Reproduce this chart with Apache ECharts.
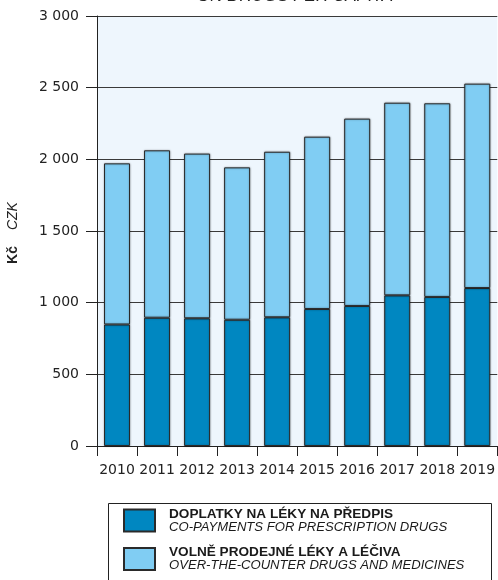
<!DOCTYPE html>
<html>
<head>
<meta charset="utf-8">
<script src="https://cdn.jsdelivr.net/npm/echarts@6/dist/echarts.min.js"></script>
<style>
html,body{margin:0;padding:0;background:#fff;}
#chart{width:498px;height:580px;}
</style>
</head>
<body>
<div id="chart"></div>
<script>
const years = ['2010','2011','2012','2013','2014','2015','2016','2017','2018','2019'];
const coPayments = [848, 895, 891, 881, 898, 956, 977, 1051, 1040, 1102];
const overTheCounter = [1124, 1168, 1149, 1063, 1155, 1202, 1307, 1344, 1351, 1426];
const seriesNamesCz = ['DOPLATKY NA LÉKY NA PŘEDPIS', 'VOLNĚ PRODEJNÉ LÉKY A LÉČIVA'];
const seriesNamesEn = ['CO-PAYMENTS FOR PRESCRIPTION DRUGS', 'OVER-THE-COUNTER DRUGS AND MEDICINES'];
const yTicks = [0, 500, 1000, 1500, 2000, 2500, 3000];

const chart = echarts.init(document.getElementById('chart'), null, {renderer:'canvas'});
const fontTick = 'DejaVu Sans';
const fontText = 'Liberation Sans';

function fmtThousands(v){
  const s = String(v);
  return s.length > 3 ? s.slice(0, s.length-3) + ' ' + s.slice(-3) : s;
}

const option = {
  backgroundColor: '#ffffff',
  animation: false,
  grid: {
    left: 97, top: 16, width: 402, height: 430,
    show: true, backgroundColor: '#EEF6FD', borderWidth: 0
  },
  xAxis: {
    type: 'category',
    data: years,
    axisLine: {show: true, lineStyle: {color: '#222', width: 1}},
    axisTick: {show: true, length: 10, lineStyle: {color: '#222'}},
    axisLabel: {interval: 0, margin: 17, color: '#222', fontFamily: fontTick, fontSize: 14}
  },
  yAxis: {
    type: 'value',
    min: yTicks[0], max: yTicks[yTicks.length-1], interval: 500,
    axisLine: {show: true, lineStyle: {color: '#222', width: 1}},
    axisTick: {show: true, length: 11, lineStyle: {color: '#222'}},
    axisLabel: {margin: 18, color: '#222', fontFamily: fontTick, fontSize: 14, formatter: fmtThousands},
    splitLine: {show: true, lineStyle: {color: '#3a3a3a', width: 1}}
  },
  legend: {
    orient: 'vertical',
    left: 123, top: 507,
    padding: 0,
    itemWidth: 31, itemHeight: 22, itemGap: 12,
    icon: 'rect',
    data: seriesNamesCz,
    formatter: function(name){
      const i = seriesNamesCz.indexOf(name);
      return '{b|' + name + '}\n{i|' + seriesNamesEn[i] + '}';
    },
    textStyle: {
      padding: [0, 0, 0, 9],
      rich: {
        b: {fontFamily: fontText, fontWeight: 'bold', fontSize: 13.6, lineHeight: 13, color: '#1a1a1a'},
        i: {fontFamily: fontText, fontStyle: 'italic', fontSize: 13.1, lineHeight: 13, color: '#1a1a1a'}
      }
    }
  },
  graphic: [
    {
      type: 'text',
      style: {
        text: 'ON DRUGS PER CAPITA', x: 295, y: 5,
        align: 'center', verticalAlign: 'bottom',
        font: 'italic 17px "Liberation Sans"', fill: '#222'
      }
    },
    {
      type: 'text',
      x: 13, y: 233, rotation: Math.PI/2,
      style: {
        text: '{b|Kč}{g|}{i|CZK}',
        align: 'center', verticalAlign: 'middle',
        rich: {
          b: {fontFamily: fontText, fontWeight: 'bold', fontSize: 14, fill: '#222', color: '#222'},
          g: {width: 16},
          i: {fontFamily: fontText, fontStyle: 'italic', fontSize: 14, fill: '#222', color: '#222'}
        }
      }
    },
    {
      type: 'rect',
      shape: {x: 108.5, y: 503.5, width: 383, height: 100},
      style: {fill: 'none', stroke: '#222', lineWidth: 1},
      silent: true
    }
  ],
  series: [
    {
      name: seriesNamesCz[0], type: 'bar', stack: 'total', barWidth: 26,
      data: coPayments,
      itemStyle: {color: '#0087C1', borderColor: '#2a2a2a', borderWidth: 1, shadowColor: 'rgba(0,0,0,0.35)', shadowBlur: 2}
    },
    {
      name: seriesNamesCz[1], type: 'bar', stack: 'total', barWidth: 26,
      data: overTheCounter,
      itemStyle: {color: '#80CDF3', borderColor: '#2a2a2a', borderWidth: 1, shadowColor: 'rgba(0,0,0,0.35)', shadowBlur: 2}
    }
  ]
};
chart.setOption(option);
</script>
</body>
</html>
